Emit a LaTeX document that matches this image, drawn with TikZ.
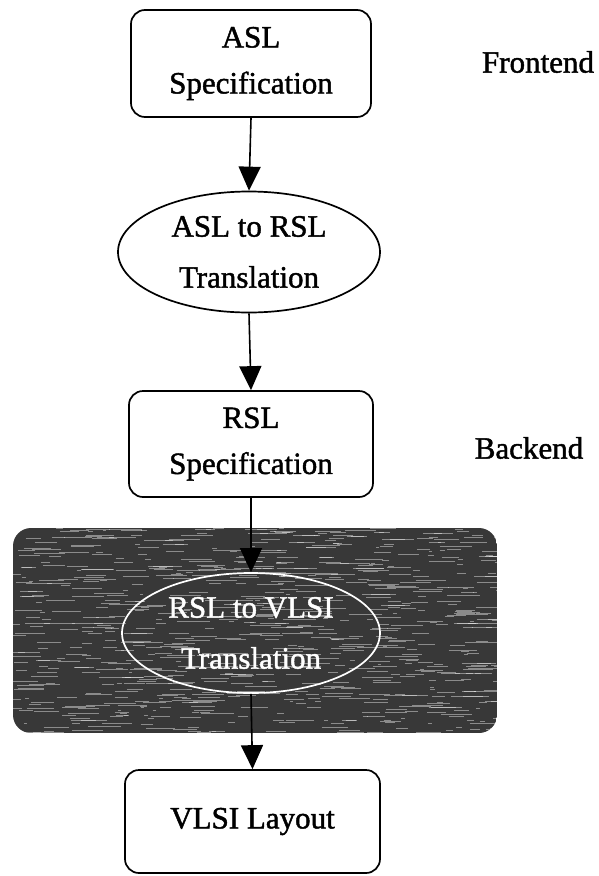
\documentclass[tikz,border=0pt]{standalone}
\usepackage{fontspec}
\setmainfont{Liberation Serif}[FakeBold=1.2]
\newfontfamily\heavyserif{Liberation Serif}[FakeBold=1.4]
\usetikzlibrary{shapes.geometric,arrows.meta}
\begin{document}
\begin{tikzpicture}[x=1pt,y=-1pt,
  every node/.style={font=\heavyserif\fontsize{31}{46}\selectfont, align=center, inner sep=0pt},
  stage/.style={draw, line width=1.7pt, rounded corners=14pt, rectangle},
  xlate/.style={ellipse, draw, line width=1.7pt, font=\heavyserif\fontsize{31}{51}\selectfont},
  flow/.style={line width=1.6pt, -{Triangle[width=22pt,length=24pt]}},
  phase/.style={font=\heavyserif\fontsize{31}{36}\selectfont},
]
\useasboundingbox (0,0) rectangle (599,876);

% shaded backdrop of the back-end translation step
\begin{scope}
  \clip[rounded corners=18pt] (13,528) rectangle (497,733);
  \fill[black!78] (13,528) rectangle (497,733);
  \pgfmathsetseed{11}
  \foreach \k in {1,...,800}{
    \pgfmathsetmacro\xx{8+rnd*490}
    \pgfmathsetmacro\yy{528+rnd*206}
    \pgfmathsetmacro\ll{3+rnd*30}
    \draw[white, line width=0.9pt, opacity=0.42] (\xx,\yy) -- ++(\ll,0);
  }
\end{scope}

% stages
\node[stage, minimum width=240pt, minimum height=107pt] (asl) at (251,63.5) {ASL\\Specification};
\node[xlate, minimum width=262pt, minimum height=121pt] (tr1) at (249,252) {ASL to RSL\\Translation};
\node[stage, minimum width=244pt, minimum height=106pt] (rsl) at (251,444) {RSL\\Specification};
\node[xlate, draw=white, text=white, minimum width=258pt, minimum height=120pt] (tr2) at (251,633) {RSL to VLSI\\Translation};
\node[stage, minimum width=255pt, minimum height=103pt] (vlsi) at (252.5,821.5) {\raisebox{-7pt}{VLSI Layout}};

% phase labels
\node[phase] (fe) at (538,62) {Frontend};
\node[phase] (be) at (529,448) {Backend};

% flow
\draw[flow] (asl.south) -- (tr1.north);
\draw[flow] (tr1.south) -- (rsl.north);
\draw[flow] (rsl.south) -- (tr2.north);
\draw[flow] (tr2.south) -- (vlsi.north);
\end{tikzpicture}
\end{document}
